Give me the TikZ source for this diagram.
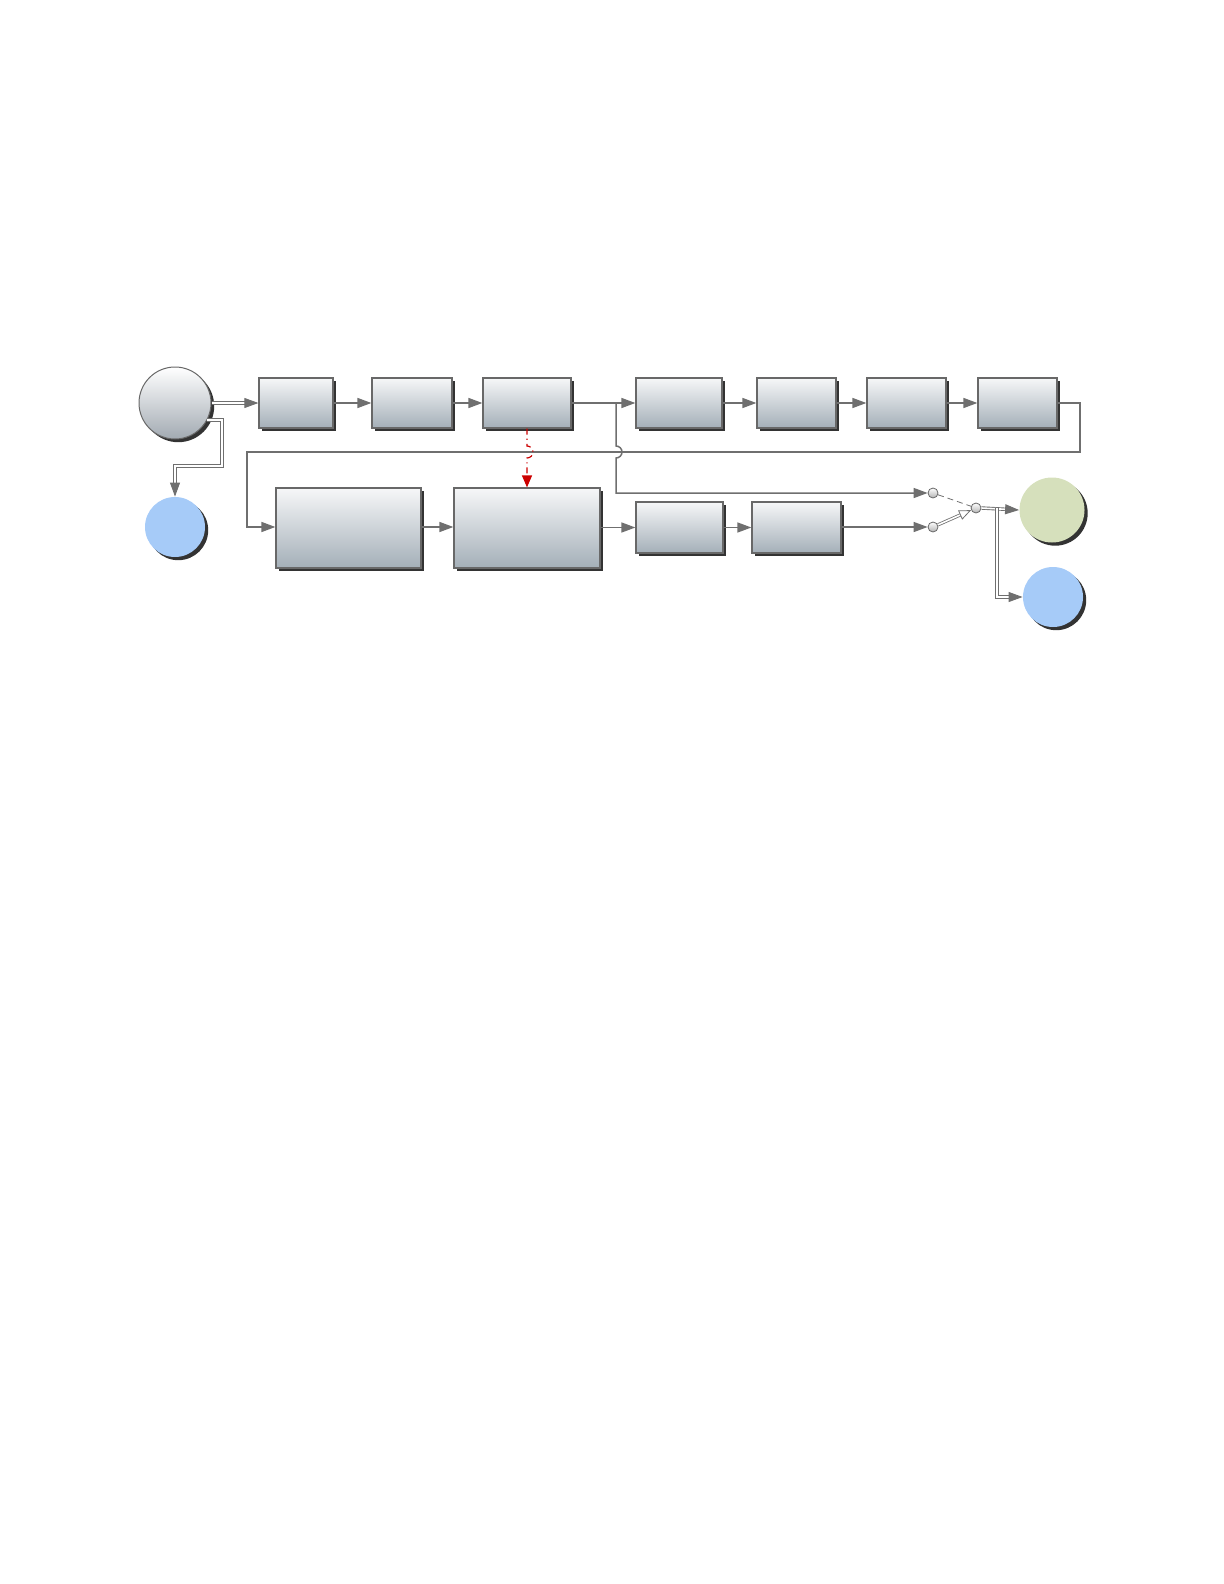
\documentclass[tikz,border=0pt]{standalone}
\usetikzlibrary{arrows.meta,shadows,calc}
\definecolor{lnc}{HTML}{6F6F6F}
\definecolor{bordc}{HTML}{686868}
\definecolor{boxtop}{HTML}{F6F7F8}
\definecolor{boxbot}{HTML}{A4AFB8}
\definecolor{srcbot}{HTML}{A2AAB2}
\definecolor{blueC}{HTML}{A6CBF8}
\definecolor{greenC}{HTML}{D6E0BC}
\definecolor{redL}{HTML}{CC0000}
\begin{document}
\begin{tikzpicture}[x=0.5pt,y=-0.5pt,
  shad/.style={drop shadow={shadow xshift=1.6pt,shadow yshift=-1.6pt,fill=black,opacity=0.8}},
  box/.style={draw=bordc,line width=0.6pt,top color=boxtop,bottom color=boxbot,shad,inner sep=0pt,rectangle},
  disc/.style={circle,draw=none,inner sep=0pt,shad},
  sw/.style={circle,draw=bordc,line width=0.4pt,inner sep=0pt,minimum size=5pt,top color=white,bottom color=gray!60},
  tip/.style={-{Triangle[length=7pt,width=5pt]}},
  conn/.style={draw=lnc,line width=0.75pt,tip},
  dconn/.style={draw=lnc,line width=0.45pt,double=white,double distance=0.8pt,tip}]
\useasboundingbox (0,0) rectangle (1224,1584);
% source and sinks
\node[disc,draw=bordc,line width=0.5pt,top color=white,bottom color=srcbot,minimum size=36pt] (src) at (175,403) {};
\node[disc,fill=blueC,minimum size=30pt] (blueA) at (175,527) {};
\node[disc,fill=greenC,minimum size=32.5pt] (green) at (1052,510) {};
\node[disc,fill=blueC,minimum size=30pt] (blueB) at (1053,597) {};
% top row
\node[box,minimum width=37pt,minimum height=25pt] (b1) at (296,403) {};
\node[box,minimum width=40pt,minimum height=25pt] (b2) at (412,403) {};
\node[box,minimum width=44pt,minimum height=25pt] (b3) at (527,403) {};
\node[box,minimum width=43pt,minimum height=25pt] (b4) at (679,403) {};
\node[box,minimum width=39.5pt,minimum height=25pt] (b5) at (796.5,403) {};
\node[box,minimum width=39.5pt,minimum height=25pt] (b6) at (906.5,403) {};
\node[box,minimum width=39.5pt,minimum height=25pt] (b7) at (1017.5,403) {};
% bottom row
\node[box,minimum width=72.5pt,minimum height=40pt] (c1) at (348.5,528) {};
\node[box,minimum width=73pt,minimum height=40pt] (c2) at (527,528) {};
\node[box,minimum width=43.5pt,minimum height=25.5pt] (c3) at (679.5,527.5) {};
\node[box,minimum width=44.5pt,minimum height=25.5pt] (c4) at (796.5,527.5) {};
% switch
\node[sw] (s1) at (933,493) {};
\node[sw] (s2) at (933,527) {};
\node[sw] (s3) at (976,508) {};
% connectors
\draw[dconn] (src.east) -- (b1.west);
\draw[dconn] (src.-28) -| (222,466) -| (blueA.north);
\draw[conn] (b1) -- (b2);
\draw[conn] (b2) -- (b3);
\draw[conn] (b3.east) -- (b4.west);
\draw[conn] (b4) -- (b5);
\draw[conn] (b5) -- (b6);
\draw[conn] (b6) -- (b7);
\draw[conn] (b7.east) -| (1080,452) -| (247,527) -- (c1.west |- 0,527);
\draw[conn] (c1.east |- 0,527) -- (c2.west |- 0,527);
\draw[conn] (c2.east |- c3.west) -- (c3.west);
\draw[conn] (c3) -- (c4);
\draw[conn] (c4.east |- s2) -- (s2.west);
\draw[conn] (616,403) -- (616,446) arc[start angle=90,end angle=-90,radius=3pt] -- (616,493) -- (s1.west);
\draw[redL,line width=0.6pt,dash dot,-{Triangle[length=6pt,width=5pt]}] (b3.south) -- (527,446) arc[start angle=90,end angle=-90,radius=3pt] -- (c2.north);
\draw[lnc,line width=0.4pt,densely dashed] (s1) -- (s3);
\draw[draw=lnc,line width=0.4pt,double=white,double distance=0.8pt,-{Triangle[open,length=6pt,width=5pt]}] (s2) -- (s3);
\draw[dconn] (s3.east) -- (green.west);
\draw[dconn] (997,508) |- (blueB.west);
\end{tikzpicture}
\end{document}
